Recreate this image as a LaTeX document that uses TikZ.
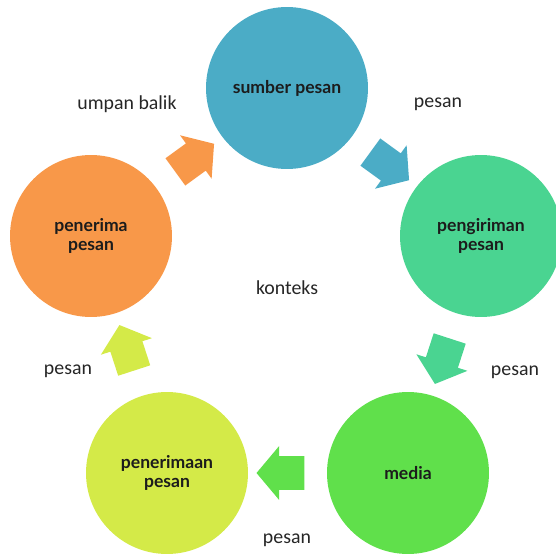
\documentclass[tikz,border=0pt]{standalone}
\usepackage{fontspec}
\setmainfont{Carlito}
\newfontfamily\circfont{Lato}
\usetikzlibrary{shapes.arrows,calc}
\definecolor{csumber}{HTML}{4BACC6}
\definecolor{ckirim}{HTML}{4AD491}
\definecolor{cmedia}{HTML}{60E04B}
\definecolor{cterima}{HTML}{D4EA48}
\definecolor{cpenerima}{HTML}{F89849}
\definecolor{labeltext}{HTML}{262626}
\definecolor{circtext}{HTML}{1C1C1C}
\begin{document}
\begin{tikzpicture}[x=0.02cm,y=-0.02cm]
\tikzstyle{every node}=[font=\fontsize{11.3}{13}\selectfont,text=labeltext]
\tikzstyle{lingkaran}=[circle,minimum size=32.4mm,inner sep=0pt,align=center,
  font=\circfont\bfseries\fontsize{10}{10.8}\selectfont,text=circtext]
\tikzstyle{panah}=[single arrow,minimum height=8.6mm,inner sep=3.3mm,
  single arrow head extend=2mm,single arrow tip angle=100]
\useasboundingbox (0,0) rectangle (556,555);
\clip (0,0) rectangle (556,555);
\node[lingkaran,fill=csumber] at (287,88) (sp) {sumber pesan};
\node[lingkaran,fill=ckirim] at (481,236) (kp) {pengiriman\\pesan};
\node[lingkaran,fill=cmedia] at (408,473) (md) {media};
\node[lingkaran,fill=cterima] at (167,473) (tp) {penerimaan\\pesan};
\node[lingkaran,fill=cpenerima] at (91,236) (pp) {penerima\\pesan};
\node[panah,fill=csumber,rotate=-36] at ($(sp)!0.5!(kp)$) (a1) {};
\node[panah,fill=ckirim,rotate=-108] at ($(kp)!0.5!(md)$) (a2) {};
\node[panah,fill=cmedia,rotate=180] at ($(md)!0.5!(tp)$) (a3) {};
\node[panah,fill=cterima,rotate=108] at ($(tp)!0.5!(pp)$) (a4) {};
\node[panah,fill=cpenerima,rotate=36] at ($(pp)!0.5!(sp)$) (a5) {};
\node at (127,104) (ub) {umpan balik};
\node at (438,104) (ps1) {pesan};
\node at (515,372) (ps2) {pesan};
\node at (287,540) (ps3) {pesan};
\node at (68,371) (ps4) {pesan};
\node at (287,288) (kt) {konteks};
\end{tikzpicture}
\end{document}
